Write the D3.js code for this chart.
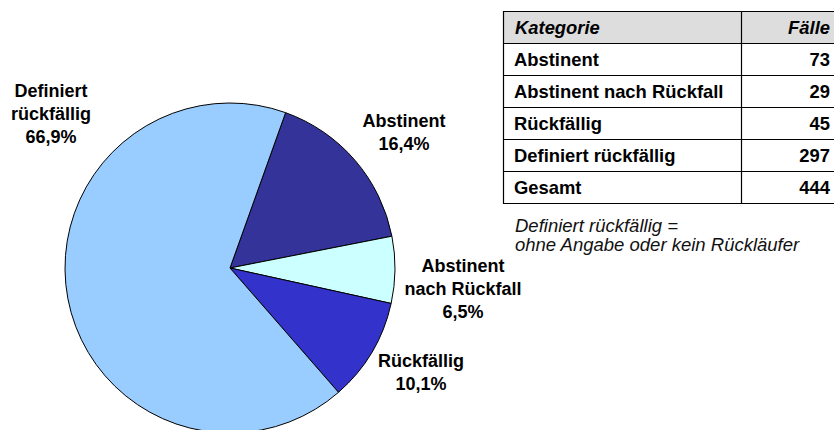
<!DOCTYPE html>
<html>
<head>
<meta charset="utf-8">
<script src="https://cdn.jsdelivr.net/npm/d3@7"></script>
<style>
  html, body { margin: 0; padding: 0; background: #fff; }
  svg { display: block; font-family: "Liberation Sans", Arial, sans-serif; }
</style>
</head>
<body>
<svg id="chart" width="834" height="430"></svg>
<script>
// ---- data ----
const categories = ["Abstinent", "Abstinent nach Rückfall", "Rückfällig", "Definiert rückfällig"];
const cases = [73, 29, 45, 297];
const totalLabel = "Gesamt";
const total = 444;
const tableHeader = ["Kategorie", "Fälle"];
const noteLines = ["Definiert rückfällig =", "ohne Angabe oder kein Rückläufer"];

// ---- layout / styles ----
const cx = 230, cy = 268, R = 165;
const startDeg = 19.7;
const colors = ["#333399", "#CCFFFF", "#3333CC", "#99CCFF"];
const labelLayout = [
  { lines: ["Abstinent"], dx: 174, dy: -141.3 },
  { lines: ["Abstinent", "nach Rückfall"], dx: 233, dy: 3.7 },
  { lines: ["Rückfällig"], dx: 191, dy: 98.7 },
  { lines: ["Definiert", "rückfällig"], dx: -179, dy: -171.3 }
];
const lineH = 23.3;

const svg = d3.select("#chart");

const data = categories.map((c, i) => ({ cat: c, value: cases[i], i }));
const sum = d3.sum(cases);
const fmtPct = v => d3.format(".1f")(v * 100).replace(".", ",") + "%";

const pie = d3.pie().sort(null).value(d => d.value)
  .startAngle(startDeg * Math.PI / 180)
  .endAngle(startDeg * Math.PI / 180 + 2 * Math.PI);
const arc = d3.arc().innerRadius(0).outerRadius(R);

const g = svg.append("g").attr("transform", `translate(${cx},${cy})`);
g.selectAll("path").data(pie(data)).join("path")
  .attr("d", arc)
  .attr("fill", d => colors[d.data.i])
  .attr("stroke", "#000")
  .attr("stroke-width", 1)
  .attr("stroke-linejoin", "round");

// labels
data.forEach((d, i) => {
  const L = labelLayout[i];
  const lines = L.lines.concat([fmtPct(d.value / sum)]);
  const t = g.append("text")
    .attr("text-anchor", "middle")
    .attr("font-weight", "bold")
    .attr("font-size", 18)
    .attr("fill", "#000");
  lines.forEach((ln, k) => {
    t.append("tspan").attr("x", L.dx).attr("y", L.dy + k * lineH).text(ln);
  });
});

// ---- table ----
const tx0 = 503, tx1 = 837, tcol = 741, ty0 = 11, rowH = 32;
const fs = 18.4;
const rows = categories.map((c, i) => [c, cases[i]]).concat([[totalLabel, total]]);
const tg = svg.append("g");
const yScale = d3.scaleBand().domain(d3.range(rows.length + 1))
  .range([ty0, ty0 + rowH * (rows.length + 1)]).padding(0);

tg.append("rect")
  .attr("x", tx0 + 0.5).attr("y", ty0 + 0.5)
  .attr("width", tx1 - tx0).attr("height", rowH)
  .attr("fill", "#DDDDDD");

d3.range(rows.length + 2).forEach(k => {
  const y = Math.round(ty0 + k * rowH) + 0.5;
  tg.append("line").attr("x1", tx0).attr("x2", tx1).attr("y1", y).attr("y2", y)
    .attr("stroke", "#000").attr("stroke-width", 1.2);
});
[tx0, tcol, tx1].forEach(x => {
  tg.append("line").attr("x1", x + 0.5).attr("x2", x + 0.5)
    .attr("y1", ty0).attr("y2", ty0 + rowH * (rows.length + 1) + 1)
    .attr("stroke", "#000").attr("stroke-width", 1.2);
});

const baseOff = 23;
tg.append("text").attr("x", 515).attr("y", yScale(0) + baseOff)
  .attr("font-size", fs).attr("font-weight", "bold").attr("font-style", "italic")
  .text(tableHeader[0]);
tg.append("text").attr("x", 830).attr("y", yScale(0) + baseOff)
  .attr("text-anchor", "end")
  .attr("font-size", fs).attr("font-weight", "bold").attr("font-style", "italic")
  .text(tableHeader[1]);

rows.forEach((r, k) => {
  const y = yScale(k + 1) + baseOff;
  tg.append("text").attr("x", 514).attr("y", y)
    .attr("font-size", fs).attr("font-weight", "bold").text(r[0]);
  tg.append("text").attr("x", 830).attr("y", y).attr("text-anchor", "end")
    .attr("font-size", fs).attr("font-weight", "bold").text(r[1]);
});

// note
noteLines.forEach((ln, k) => {
  svg.append("text").attr("x", 515).attr("y", 231.5 + k * 19.5)
    .attr("font-size", 18.5).attr("font-style", "italic").attr("fill", "#111")
    .text(ln);
});
</script>
</body>
</html>
